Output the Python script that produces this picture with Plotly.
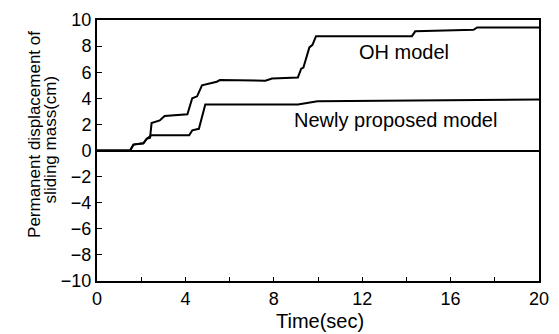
import plotly.graph_objects as go

oh_t = [0, 1.5, 1.65, 2.1, 2.25, 2.4, 2.47, 2.84, 3.06, 4.09, 4.31, 4.53, 4.75, 5.42, 5.56,
        7.62, 7.92, 9.09, 9.24, 9.34, 9.61, 9.75, 9.91, 14.25, 14.4, 17.04, 17.2, 20]
oh_v = [0, 0, 0.45, 0.55, 0.9, 0.97, 2.1, 2.3, 2.65, 2.78, 4.0, 4.15, 5.0, 5.27, 5.4,
        5.35, 5.52, 5.6, 6.27, 6.35, 7.9, 8.1, 8.76, 8.76, 9.13, 9.25, 9.43, 9.43]

new_t = [0, 1.5, 1.65, 2.1, 2.25, 2.47, 4.17, 4.31, 4.61, 4.9, 9.09, 9.54, 9.98, 20]
new_v = [0, 0, 0.45, 0.55, 0.9, 1.17, 1.17, 1.54, 1.66, 3.53, 3.53, 3.66, 3.78, 3.9]

x_ticks = [0, 4, 8, 12, 16, 20]
y_ticks = [-10, -8, -6, -4, -2, 0, 2, 4, 6, 8, 10]

labels = ["OH model", "Newly proposed model"]
label_t = [13.9, 13.5]
label_v = [7.55, 2.35]

x_title = "Time(sec)"
y_title_lines = ["Permanent displacement of", "sliding mass(cm)"]

font = "Liberation Sans, Arial, sans-serif"

fig = go.Figure()
fig.add_trace(go.Scatter(x=oh_t, y=oh_v, mode="lines", line=dict(color="black", width=2),
                         showlegend=False))
fig.add_trace(go.Scatter(x=new_t, y=new_v, mode="lines", line=dict(color="black", width=2),
                         showlegend=False))

for txt, tx, ty in zip(labels, label_t, label_v):
    fig.add_annotation(x=tx, y=ty, text=txt, showarrow=False,
                       font=dict(family=font, size=20, color="black"))

# axis titles as annotations for precise placement
fig.add_annotation(xref="paper", yref="paper", x=0.504, y=-0.154, text=x_title,
                   showarrow=False, xanchor="center", yanchor="middle",
                   font=dict(family=font, size=20, color="black"))
for txt, px, py in zip(y_title_lines, [-0.14, -0.105], [0.56, 0.541]):
    fig.add_annotation(xref="paper", yref="paper", x=px, y=py, text=txt,
                       showarrow=False, xanchor="center", yanchor="middle",
                       textangle=-90, font=dict(family=font, size=17, color="black"))

fig.update_layout(
    width=559, height=334,
    margin=dict(l=97, r=10, t=15, b=53),
    plot_bgcolor="white", paper_bgcolor="white",
    font=dict(family=font, size=18, color="black"),
)
fig.update_xaxes(range=[0, 20], tickvals=x_ticks, ticks="inside", ticklen=4,
                 minor=dict(dtick=2, ticks="inside", ticklen=4, tickcolor="black"),
                 tickcolor="black", showgrid=False, zeroline=False,
                 showline=True, linecolor="black", linewidth=2, mirror=True,
                 tickfont=dict(size=18))
fig.update_yaxes(range=[-10, 10], tickvals=y_ticks, ticks="inside", ticklen=5,
                 tickcolor="black", showgrid=False,
                 zeroline=True, zerolinecolor="black", zerolinewidth=2,
                 showline=True, linecolor="black", linewidth=2, mirror=True,
                 tickfont=dict(size=18))

fig.write_html("out.html")
